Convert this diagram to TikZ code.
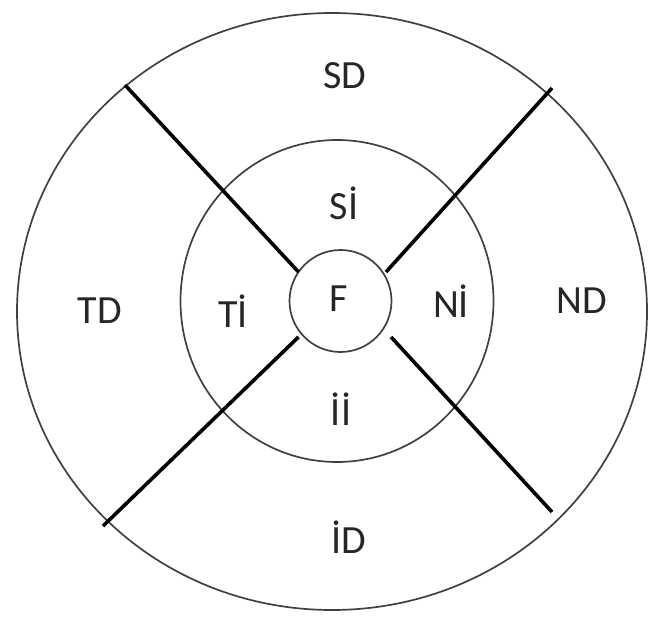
\documentclass[tikz,border=0pt]{standalone}
\usepackage{fontspec}
\setmainfont{Carlito}

\tikzset{
  ring/.style={draw=black!75, line width=1.7pt},
  divider/.style={draw=black, line width=3.6pt},
  region/.style={font=\fontsize{40}{44}\selectfont, text=black!85, inner sep=0pt}
}

\begin{document}
\begin{tikzpicture}[x=1pt,y=-1pt]
  \useasboundingbox (0,0) rectangle (652,617);
  \draw[ring] (332,311.5) ellipse [x radius=315, y radius=298.5];
  \draw[ring] (337,301) ellipse [x radius=156.5, y radius=161];
  \draw[ring] (340.5,301) circle (51);
  % dividers between the sectors
  \coordinate (nwout) at (125,85);
  \coordinate (nwin) at (298.5,272);
  \coordinate (neout) at (552,88);
  \coordinate (nein) at (386,272);
  \coordinate (swout) at (103,526);
  \coordinate (swin) at (298.5,337);
  \coordinate (seout) at (552,512);
  \coordinate (sein) at (391,337);
  \draw[divider] (nwout) -- (nwin);
  \draw[divider] (neout) -- (nein);
  \draw[divider] (swout) -- (swin);
  \draw[divider] (seout) -- (sein);
  \node[region] (sd) at (345,76) {SD};
  \node[region] (si) at (344,203) {Sİ};
  \node[region] (td) at (100,311) {TD};
  \node[region] (ti) at (233,311) {Tİ};
  \node[region] (f) at (339,299) {F};
  \node[region] (ni) at (451,301) {Nİ};
  \node[region] (nd) at (582,301) {ND};
  \node[region] (ii) at (341,409) {İİ};
  \node[region] (id) at (349,537) {İD};
\end{tikzpicture}
\end{document}
